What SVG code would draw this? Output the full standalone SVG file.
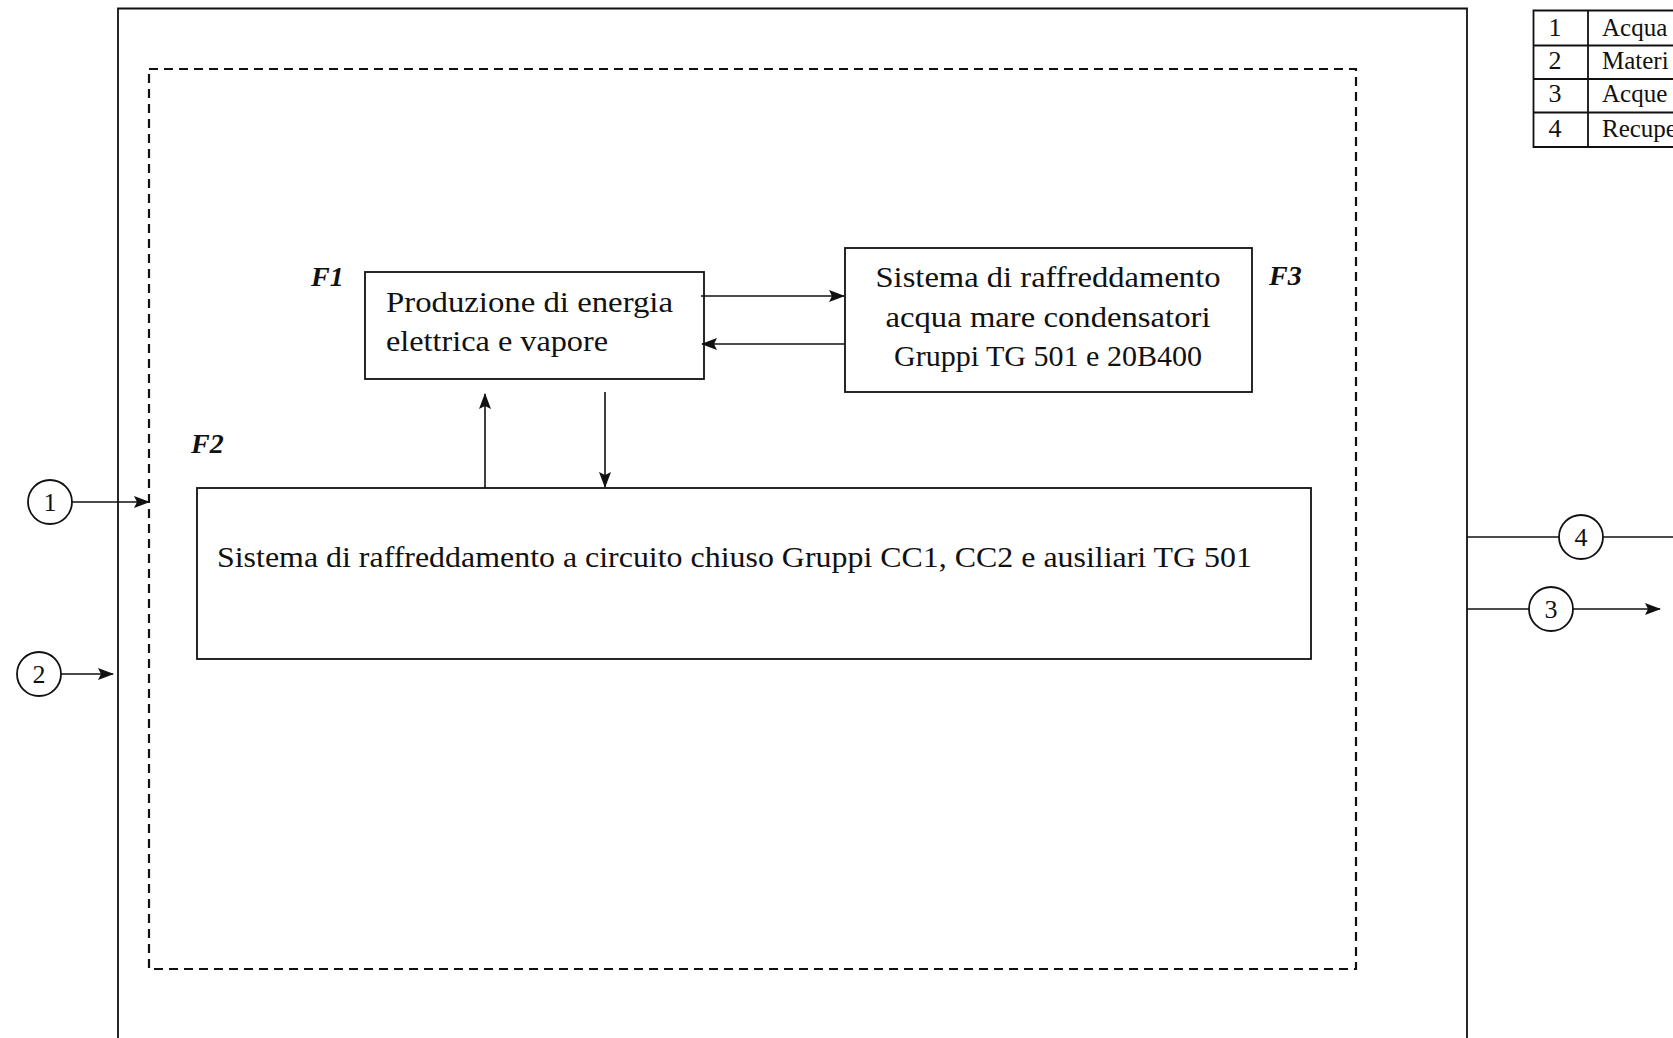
<svg xmlns="http://www.w3.org/2000/svg" width="1673" height="1038" viewBox="0 0 1673 1038">
<defs>
<style>
.ln{fill:none;stroke:#111;stroke-width:1.8}
.dash{fill:none;stroke:#111;stroke-width:2.2;stroke-dasharray:9 6}
.box{fill:#fff;stroke:#111;stroke-width:1.8}
.t{font-family:"Liberation Serif","DejaVu Serif",serif;fill:#111}
.body{font-size:30px}
.lab{font-size:28px;font-style:italic;font-weight:bold}
.num{font-size:26px;text-anchor:middle}
.tab{font-size:25px}
.con{fill:none;stroke:#111;stroke-width:1.6}
</style>
<marker id="ah" markerWidth="16" markerHeight="12" refX="15" refY="6" orient="auto" markerUnits="userSpaceOnUse">
<path d="M0,0 L16,6 L0,12 L3,6 Z" fill="#111"/>
</marker>
</defs>
<rect width="1673" height="1038" fill="#fff"/>

<g id="outer-boundary">
<path class="ln" d="M118,1045 L118,8.5 L1467,8.5 L1467,1045"/>
</g>
<g id="dashed-boundary">
<rect class="dash" x="149" y="69" width="1207" height="900"/>
</g>

<g id="legend-table">
<path class="ln" d="M1700,10.5 L1533.5,10.5 L1533.5,147 L1700,147 M1533.5,45.5 L1700,45.5 M1533.5,79 L1700,79 M1533.5,112.5 L1700,112.5 M1588,10.5 L1588,147"/>
<text class="t num" x="1555" y="36">1</text>
<text class="t num" x="1555" y="69">2</text>
<text class="t num" x="1555" y="102">3</text>
<text class="t num" x="1555" y="137">4</text>
<text class="t tab" x="1602" y="36">Acqua</text>
<text class="t tab" x="1602" y="69">Materi</text>
<text class="t tab" x="1602" y="102">Acque</text>
<text class="t tab" x="1602" y="137">Recupe</text>
</g>

<g id="F1">
<rect class="box" x="365" y="272" width="339" height="107"/>
<text class="t body" x="386" y="312" textLength="287" lengthAdjust="spacingAndGlyphs">Produzione di energia</text>
<text class="t body" x="386" y="351" textLength="222" lengthAdjust="spacingAndGlyphs">elettrica e vapore</text>
<text class="t lab" x="311" y="286">F1</text>
</g>

<g id="F3">
<rect class="box" x="845" y="248" width="407" height="144"/>
<text class="t body" x="1048" y="287" text-anchor="middle" textLength="345" lengthAdjust="spacingAndGlyphs">Sistema di raffreddamento</text>
<text class="t body" x="1048" y="327" text-anchor="middle" textLength="325" lengthAdjust="spacingAndGlyphs">acqua mare condensatori</text>
<text class="t body" x="1048" y="366" text-anchor="middle" textLength="308" lengthAdjust="spacingAndGlyphs">Gruppi TG 501 e 20B400</text>
<text class="t lab" x="1269" y="285">F3</text>
</g>

<g id="F2">
<rect class="box" x="197" y="488" width="1114" height="171"/>
<text class="t body" x="217" y="567" textLength="1035" lengthAdjust="spacingAndGlyphs">Sistema di raffreddamento a circuito chiuso Gruppi CC1, CC2 e ausiliari TG 501</text>
<text class="t lab" x="191" y="453">F2</text>
</g>

<g id="flow-1">
<circle class="ln" cx="50" cy="502" r="22"/>
<text class="t num" x="50" y="511">1</text>
</g>
<g id="flow-2">
<circle class="ln" cx="39" cy="674" r="22"/>
<text class="t num" x="39" y="683">2</text>
</g>
<g id="flow-3">
<circle class="ln" cx="1551" cy="609" r="22"/>
<text class="t num" x="1551" y="618">3</text>
</g>
<g id="flow-4">
<circle class="ln" cx="1581" cy="537" r="22"/>
<text class="t num" x="1581" y="546">4</text>
</g>

<g id="connectors">
<line class="con" x1="701" y1="296" x2="844" y2="296" marker-end="url(#ah)"/>
<line class="con" x1="845" y1="344" x2="702" y2="344" marker-end="url(#ah)"/>
<line class="con" x1="485" y1="488" x2="485" y2="394" marker-end="url(#ah)"/>
<line class="con" x1="605" y1="392" x2="605" y2="487" marker-end="url(#ah)"/>
<line class="con" x1="72" y1="502" x2="149" y2="502" marker-end="url(#ah)"/>
<line class="con" x1="61" y1="674" x2="113" y2="674" marker-end="url(#ah)"/>
<line class="con" x1="1467" y1="537" x2="1559" y2="537"/>
<line class="con" x1="1603" y1="537" x2="1673" y2="537"/>
<line class="con" x1="1467" y1="609" x2="1529" y2="609"/>
<line class="con" x1="1573" y1="609" x2="1660" y2="609" marker-end="url(#ah)"/>
</g>
</svg>
